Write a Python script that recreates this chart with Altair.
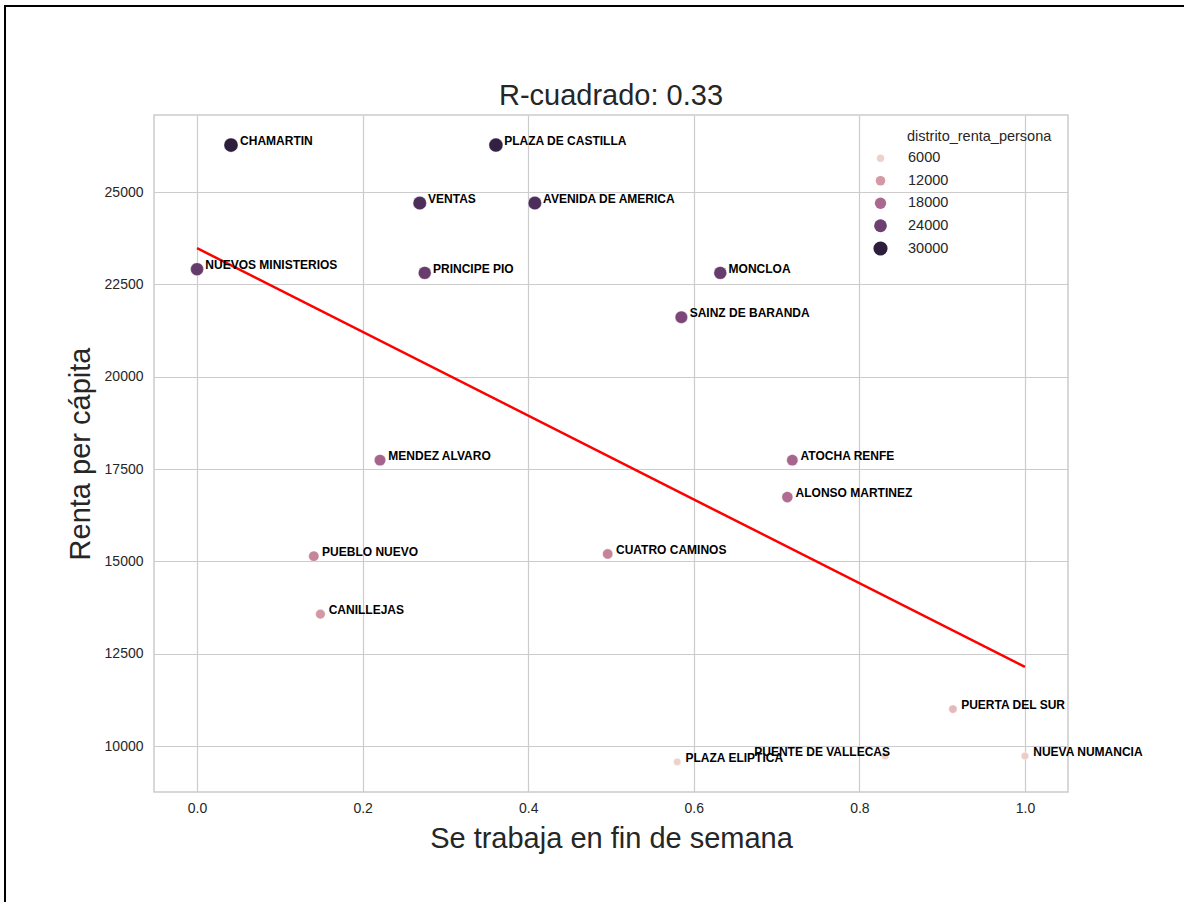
import altair as alt
import pandas as pd
import numpy as np

# ---- data ----
estaciones = ["CHAMARTIN", "PLAZA DE CASTILLA", "VENTAS", "AVENIDA DE AMERICA",
              "NUEVOS MINISTERIOS", "PRINCIPE PIO", "MONCLOA", "SAINZ DE BARANDA",
              "MENDEZ ALVARO", "ATOCHA RENFE", "ALONSO MARTINEZ", "PUEBLO NUEVO",
              "CUATRO CAMINOS", "CANILLEJAS", "PUERTA DEL SUR", "NUEVA NUMANCIA",
              "PUENTE DE VALLECAS", "PLAZA ELIPTICA"]
trabajo_finde = [0.041, 0.361, 0.269, 0.408, 0.000, 0.275, 0.632, 0.585, 0.221,
                 0.719, 0.713, 0.141, 0.496, 0.149, 0.913, 1.000, 0.831, 0.580]
renta_per_capita = [26270, 26270, 24700, 24700, 22910, 22810, 22810, 21610, 17740,
                    17740, 16740, 15140, 15200, 13570, 11000, 9730, 9730, 9570]
distrito_renta_persona = [30000, 29500, 27000, 27000, 24800, 24500, 24500, 22800, 18500,
                          18300, 17300, 14500, 14500, 12200, 8500, 6500, 6200, 6000]
etiqueta_x = [0.052, 0.371, 0.279, 0.418, 0.010, 0.285, 0.642, 0.595, 0.231,
              0.729, 0.723, 0.151, 0.506, 0.159, 0.923, 1.010, 0.673, 0.590]

reg_x = [0.0, 1.0]
reg_y = [23480, 12140]

legend_title = "distrito_renta_persona"
legend_values = [6000, 12000, 18000, 24000, 30000]
x_ticks = [0.0, 0.2, 0.4, 0.6, 0.8, 1.0]
y_ticks = [10000, 12500, 15000, 17500, 20000, 22500, 25000]

df = pd.DataFrame({
    "estacion": estaciones,
    "finde": trabajo_finde,
    "renta": renta_per_capita,
    "distrito_renta_persona": distrito_renta_persona,
    "lx": etiqueta_x,
})
reg = pd.DataFrame({"finde": reg_x, "renta": reg_y})


# seaborn-like default cubehelix palette (light -> dark)
def cubehelix(x, start=0.0, rot=0.4, gamma=1.0, hue=0.8):
    xg = x ** gamma
    a = hue * xg * (1 - xg) / 2
    phi = 2 * np.pi * (start / 3 + rot * x)
    r = xg + a * (-0.14861 * np.cos(phi) + 1.78277 * np.sin(phi))
    g = xg + a * (-0.29227 * np.cos(phi) - 0.90649 * np.sin(phi))
    b = xg + a * (1.97294 * np.cos(phi))
    c = np.clip([r, g, b], 0, 1)
    return "#%02x%02x%02x" % tuple(int(round(v * 255)) for v in c)


palette = [cubehelix(t) for t in np.linspace(0.85, 0.15, 11)]

FONT = "Liberation Sans"
W, H = 914, 677
xdom = [-0.052, 1.052]
ydom = [8755, 27085]
hdom = [min(distrito_renta_persona), max(distrito_renta_persona)]

xscale = alt.Scale(domain=xdom, nice=False, zero=False)
yscale = alt.Scale(domain=ydom, nice=False, zero=False)

leg = alt.Legend(
    title="", values=legend_values, type="symbol", format="d",
    orient="none", legendX=719, legendY=36, padding=0,
    labelFont=FONT, labelFontSize=14.5, labelColor="#262626",
    labelOffset=20, rowPadding=7.5, titlePadding=0, symbolStrokeWidth=0,
)

points = alt.Chart(df).mark_point(filled=True, opacity=1, stroke="white",
                                  strokeWidth=0.4).encode(
    x=alt.X("finde:Q", scale=xscale,
            axis=alt.Axis(values=x_ticks, format=".1f", title="Se trabaja en fin de semana",
                          titleX=W / 2, titleY=46, titleBaseline="middle",
                          titleAlign="center", labelPadding=9)),
    y=alt.Y("renta:Q", scale=yscale,
            axis=alt.Axis(values=y_ticks, format="d", title="Renta per cápita",
                          titleAngle=-90, titleX=-74, titleY=H / 2,
                          titleBaseline="middle", titleAlign="center", labelPadding=11)),
    color=alt.Color("distrito_renta_persona:Q",
                    scale=alt.Scale(domain=hdom, range=palette, nice=False, zero=False),
                    legend=leg),
    size=alt.Size("distrito_renta_persona:Q",
                  scale=alt.Scale(domain=hdom, range=[55, 200], nice=False, zero=False),
                  legend=leg),
)

labels = alt.Chart(df).mark_text(
    align="left", baseline="alphabetic", font=FONT, fontSize=12,
    fontWeight="bold", color="black",
).encode(
    x=alt.X("lx:Q", scale=xscale),
    y=alt.Y("renta:Q", scale=yscale),
    text="estacion:N",
)

line = alt.Chart(reg).mark_line(color="red", strokeWidth=2.5).encode(
    x=alt.X("finde:Q", scale=xscale),
    y=alt.Y("renta:Q", scale=yscale),
)

# legend heading, aligned with the legend labels as in the reference
leg_title = alt.Chart(alt.Data(values=[{"t": legend_title}])).mark_text(
    align="left", baseline="middle", font=FONT, fontSize=14.5, color="#262626",
).encode(
    x=alt.value(753), y=alt.value(22), text="t:N",
)

frame = alt.Chart(alt.Data(values=[{"k": 1}])).mark_rect(
    fillOpacity=0, stroke="black", strokeWidth=2, clip=False,
).encode(
    x=alt.value(-149), x2=alt.value(1060),
    y=alt.value(-109), y2=alt.value(800),
)

chart = alt.layer(line, points, labels, leg_title, frame).properties(
    width=W, height=H,
    background="white",
    title=alt.TitleParams("R-cuadrado: 0.33", font=FONT, fontSize=29,
                          fontWeight="normal", color="#262626", offset=0,
                          baseline="alphabetic", dy=129),
    autosize=alt.AutoSizeParams(type="none"),
    padding={"left": 154, "top": 115, "right": 116, "bottom": 110},
).configure_view(
    stroke="#cccccc", strokeWidth=1.5,
).configure_axis(
    grid=True, gridColor="#cccccc", gridWidth=1.2, domain=False, ticks=False,
    labelFont=FONT, labelFontSize=14, labelColor="#262626",
    titleFont=FONT, titleFontSize=29, titleFontWeight="normal", titleColor="#262626",
)

chart.save("out.html", embed_options={"renderer": "svg", "actions": False})
